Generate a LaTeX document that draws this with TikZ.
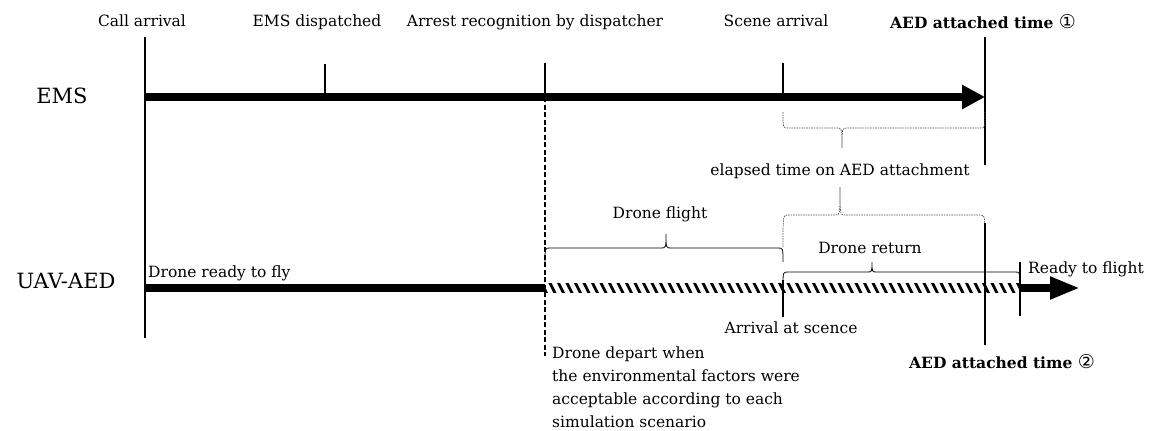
\documentclass[tikz,border=0pt]{standalone}
\usepackage{fontspec}
\setmainfont{DejaVu Serif}
\newfontfamily\symfont{DejaVu Sans}
\usetikzlibrary{arrows.meta,positioning,calc}

% time brace: [style]{x left}{x right}{x tip}{y}{end offset}{tip offset}
\newcommand{\tbrace}[7][]{%
  \draw[#1] (#2,{#5+#6}) .. controls (#2,#5) .. ({#2+5},#5) -- ({#4-5},#5)
    .. controls (#4,#5) .. (#4,{#5+#7}) .. controls (#4,#5) .. ({#4+5},#5)
    -- ({#3-5},#5) .. controls (#3,#5) .. (#3,{#5+#6});}
\newcommand{\circnum}[1]{{\mdseries\symfont\fontsize{19}{18}\selectfont #1}}

\begin{document}
\begin{tikzpicture}[x=1pt,y=-1pt,
  lbl/.style={font=\fontsize{15.5}{18}\selectfont,inner sep=0pt},
  rowlbl/.style={font=\fontsize{21}{24}\selectfont,inner sep=0pt},
  aedlbl/.style={font=\fontsize{15.5}{18}\selectfont\bfseries,inner sep=0pt},
  tick/.style={line width=2pt},
  mainline/.style={line width=8pt},
  brc/.style={line width=0.8pt},
  dbrc/.style={line width=0.7pt,black!70,dash pattern=on 1.5pt off 1pt},
  >=Stealth]
\useasboundingbox (0,0) rectangle (1162,431);

% EMS row
\coordinate (emsS) at (145,97);
\coordinate (emsE) at (985,97);
\coordinate (callT) at (145,37);
\coordinate (callB) at (145,338);
\coordinate (dispT) at (325,64);
\coordinate (dispB) at (325,97);
\coordinate (arrT) at (545,63);
\coordinate (arrM) at (545,97);
\coordinate (arrB) at (545,356);
\coordinate (sceneT) at (783,63);
\coordinate (sceneB) at (783,97);
\coordinate (aed1T) at (985,37);
\coordinate (aed1B) at (985,165);

\draw[tick] (callT) -- (callB);
\draw[tick] (dispT) -- (dispB);
\draw[tick] (arrT) -- (arrM);
\draw[line width=2.2pt,dash pattern=on 5pt off 2.5pt] (arrM) -- (arrB);
\draw[tick] (sceneT) -- (sceneB);
\draw[tick] (aed1T) -- (aed1B);
\draw[mainline,-{Triangle[length=23pt,width=23pt]}] (emsS) -- (emsE);

\node[rowlbl,anchor=base] (ems) at (62,103) {EMS};
\node[lbl,anchor=base] (callL) at (142,27) {Call arrival};
\node[lbl,anchor=base] (dispL) at (317,27) {EMS dispatched};
\node[lbl,anchor=base] (arrL) at (535,27) {Arrest recognition by dispatcher};
\node[lbl,anchor=base] (sceneL) at (776,27) {Scene arrival};
\node[aedlbl,anchor=base] (aed1L) at (983,28) {AED attached time \circnum{①}};

% elapsed time braces
\tbrace[dbrc]{783}{985}{842}{128}{-16}{20}
\node[lbl,anchor=base] (elapsed) at (840,175) {elapsed time on AED attachment};
\tbrace[dbrc]{783}{985}{840}{215}{32}{-28}

% UAV-AED row
\coordinate (uavS) at (145,288);
\coordinate (depart) at (545,288);
\coordinate (ready) at (1020,288);
\coordinate (uavE) at (1080,288);
\coordinate (arrvT) at (783,280);
\coordinate (arrvB) at (783,317);
\coordinate (aed2T) at (985,223);
\coordinate (aed2B) at (985,345);
\coordinate (readyT) at (1020,262);
\coordinate (readyB) at (1020,316);

\draw[mainline] (uavS) -- (depart);
\begin{scope}
  \clip (545,283.5) rectangle (1020,292.5);
  \foreach \x in {541,549.5,...,1030}
    \draw[line width=2.8pt] (\x,282) -- (\x+6,294);
\end{scope}
\draw[mainline,-{Triangle[length=30pt,width=21pt]}] (ready) -- (uavE);
\draw[tick] (arrvT) -- (arrvB);
\draw[tick] (aed2T) -- (aed2B);
\draw[tick] (readyT) -- (readyB);

\tbrace[brc]{545}{783}{666}{248}{14}{-14}
\tbrace[brc]{783}{1020}{872}{272}{14}{-10}

\node[rowlbl,anchor=base] (uav) at (66,288) {UAV-AED};
\node[lbl,anchor=base west] (readyfly) at (148,277) {Drone ready to fly};
\node[lbl,anchor=base] (flight) at (660,218) {Drone flight};
\node[lbl,anchor=base] (return) at (870,253) {Drone return};
\node[lbl,anchor=base west] (readyL) at (1028,273) {Ready to flight};
\node[lbl,anchor=base] (arrvL) at (791,333) {Arrival at scence};
\node[aedlbl,anchor=base] (aed2L) at (1002,368) {AED attached time \circnum{②}};
\node[lbl,anchor=north west,align=left,font=\fontsize{15.5}{22.7}\selectfont] (departL) at (552,347)
  {Drone depart when\\the environmental factors were\\acceptable according to each\\simulation scenario};
\end{tikzpicture}
\end{document}
